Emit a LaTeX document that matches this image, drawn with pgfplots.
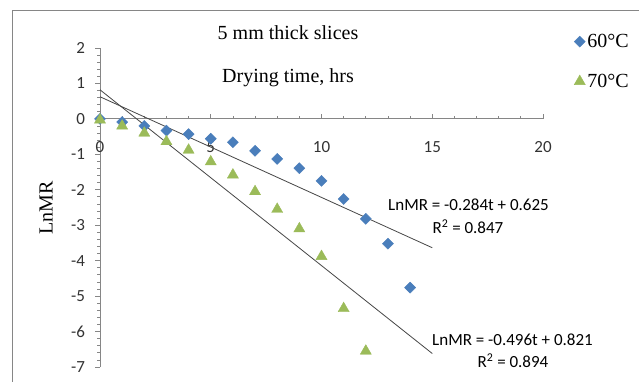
\documentclass[border=0pt]{standalone}
\usepackage{fontspec}
\setmainfont{Liberation Serif}
\newfontfamily\calfont{Carlito}
\usepackage{pgfplots}
\pgfplotsset{compat=1.18}
\definecolor{axgray}{RGB}{134,134,134}
\definecolor{blueS}{RGB}{74,126,187}
\definecolor{greenS}{RGB}{155,187,89}
\definecolor{trend}{RGB}{70,70,70}
\begin{document}
\begin{tikzpicture}[x=1pt,y=1pt]
\useasboundingbox (0,0) rectangle (639,381);
\fill[white] (0,0) rectangle (639,381);
\draw[axgray, line width=1pt] (12,370) rectangle (700,-20);
\begin{axis}[
  at={(100pt,14pt)}, anchor=south west, scale only axis,
  width=443pt, height=319pt,
  xmin=0, xmax=20, ymin=-7, ymax=2,
  axis x line*=middle, axis y line*=left,
  hide obscured x ticks=false, hide obscured y ticks=false,
  axis line style={axgray, line width=0.9pt},
  xtick={0,5,10,15,20}, minor xtick={1,2,3,4,6,7,8,9,11,12,13,14,16,17,18,19},
  ytick={-7,-6,-5,-4,-3,-2,-1,0,1,2}, minor y tick num=4,
  tick align=center,
  major tick length=5pt, minor tick length=3pt,
  tick style={axgray, line width=0.8pt},
  every major x tick/.style={yshift=2.5pt},
  every minor x tick/.style={yshift=1.5pt},
  every major y tick/.style={xshift=-2.5pt},
  every minor y tick/.style={xshift=-1.5pt},
  /pgf/number format/assume math mode=true,
  tick label style={font=\calfont\fontsize{17}{17}\selectfont, text=black!80},
  xticklabel style={yshift=-17pt},
  yticklabel style={xshift=-9pt},
  clip=false,
  legend style={at={(axis cs:21.4,2.45)}, anchor=north west, draw=none, fill=none,
    font=\fontsize{20}{22}\selectfont, row sep=21pt, inner sep=0pt,
    /tikz/every even column/.append style={column sep=2pt}},
  legend cell align=left,
]
\addplot[forget plot, trend, line width=0.8pt] coordinates {(0,0.625) (15,-3.635)};
\addplot[forget plot, trend, line width=0.8pt] coordinates {(0,0.821) (15,-6.619)};
\addplot[only marks, mark=square*, mark size=3.9pt, mark options={rotate=45, fill=blueS, draw=blueS}]
coordinates {
(0,0) (1,-0.09) (2,-0.2) (3,-0.33) (4,-0.43) (5,-0.56) (6,-0.66) (7,-0.9)
(8,-1.13) (9,-1.39) (10,-1.75) (11,-2.26) (12,-2.82) (13,-3.52) (14,-4.76)
};
\addlegendentry{60°C}
\addplot[only marks, mark=triangle*, mark size=6.4pt, mark options={fill=greenS, draw=greenS}]
coordinates {
(0,-0.03) (1,-0.2) (2,-0.4) (3,-0.64) (4,-0.88) (5,-1.21) (6,-1.58) (7,-2.05)
(8,-2.55) (9,-3.1) (10,-3.88) (11,-5.35) (12,-6.55)
};
\addlegendentry{70°C}
\end{axis}
\node[font=\fontsize{20}{24}\selectfont] at (288,348) {5 mm thick slices};
\node[font=\fontsize{20}{24}\selectfont] at (288,303) {Drying time, hrs};
\node[font=\fontsize{20}{24}\selectfont, rotate=90] at (46,173) {LnMR};
\node[font=\calfont\fontsize{17}{17}\selectfont] at (468.5,176) {LnMR = -0.284t + 0.625};
\node[font=\calfont\fontsize{17}{17}\selectfont] at (468,154) {R\textsuperscript{2} = 0.847};
\node[font=\calfont\fontsize{17}{17}\selectfont] at (512.5,41) {LnMR = -0.496t + 0.821};
\node[font=\calfont\fontsize{17}{17}\selectfont] at (513,20) {R\textsuperscript{2} = 0.894};
\end{tikzpicture}
\end{document}
